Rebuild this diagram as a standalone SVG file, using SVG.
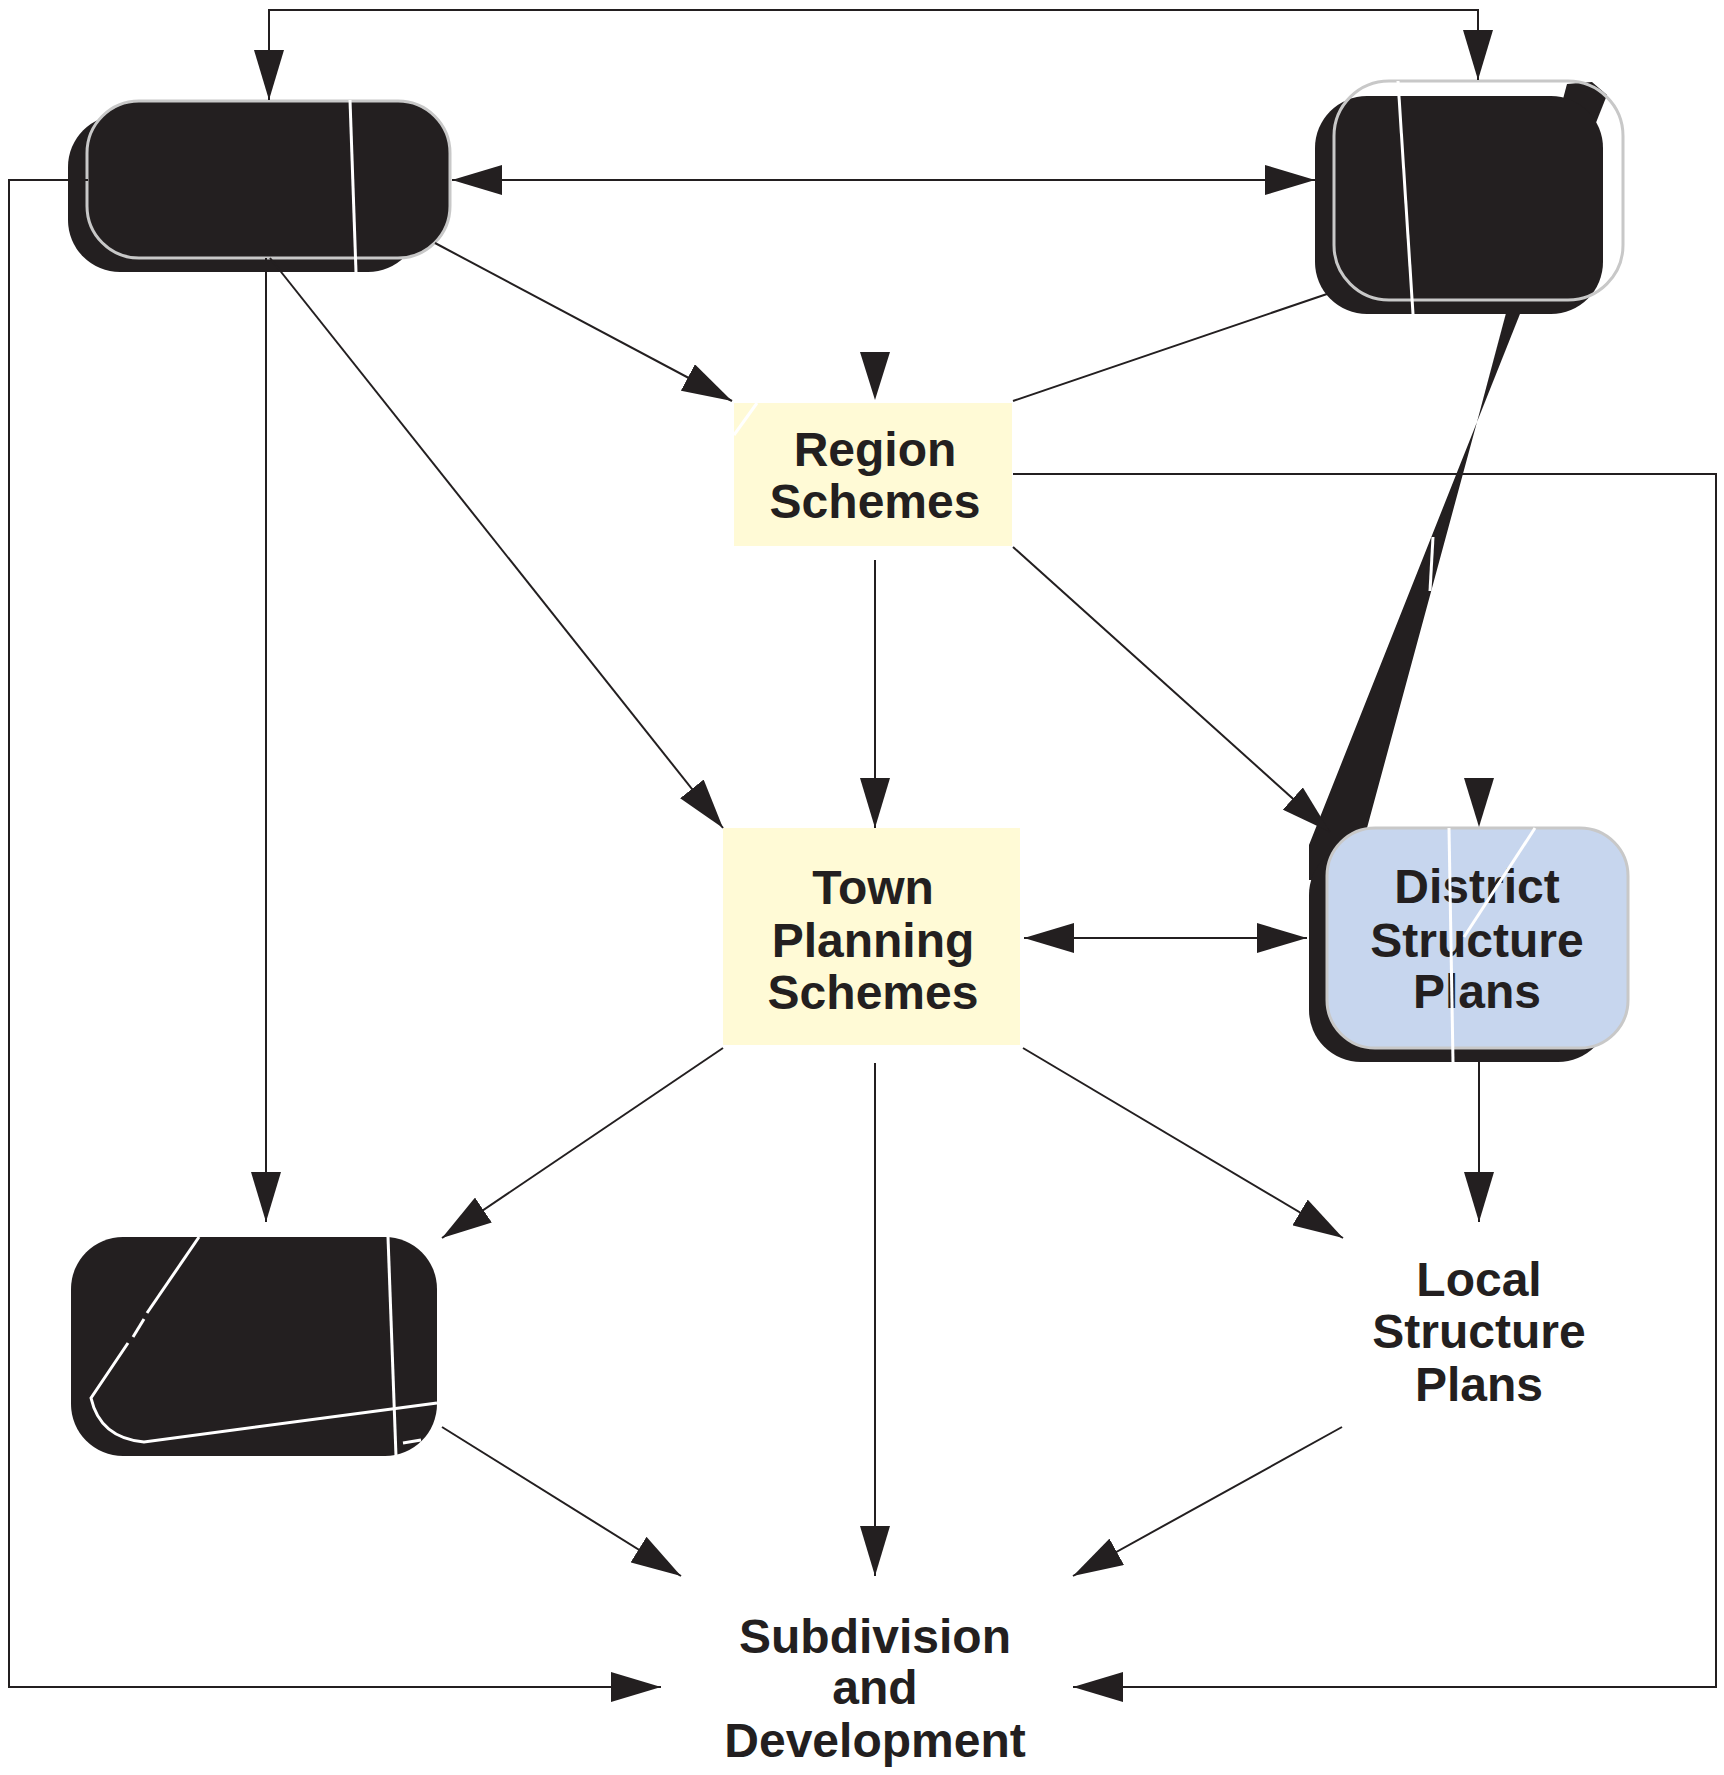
<svg xmlns="http://www.w3.org/2000/svg" width="1724" height="1775" viewBox="0 0 1724 1775">
<defs>
<style>
.blk{fill:#231f20}
.outl{fill:none;stroke:#c8c8c8;stroke-width:3}
.wl{stroke:#ffffff;stroke-width:3;fill:none}
.yel{fill:#fffad6}
.blue{fill:#c7d6ee;stroke:#c8c8c8;stroke-width:3}
.lbl{font-family:"Liberation Sans",Arial,Helvetica,sans-serif;font-weight:bold;font-size:48px;fill:#231f20;text-anchor:middle}
.cn{fill:none;stroke:#231f20;stroke-width:2}
</style>
<marker id="ah" viewBox="0 0 50 30" refX="50" refY="15" markerWidth="50" markerHeight="30" markerUnits="userSpaceOnUse" orient="auto-start-reverse">
<path d="M0,0 L50,15 L0,30 z" fill="#231f20"/>
</marker>
</defs>
<rect width="1724" height="1775" fill="#ffffff"/>

<g id="node-top-left">
<rect class="blk" x="68" y="115" width="352" height="157" rx="52"/>
<rect class="blk" x="87" y="101" width="363" height="157" rx="52" stroke="#c8c8c8" stroke-width="3"/>
<line class="wl" x1="350" y1="100" x2="356" y2="272"/>
</g>

<g id="node-top-right">
<polygon class="blk" points="1567,84 1592,82 1607,95 1477,422"/>
<rect class="blk" x="1315" y="96" width="288" height="218" rx="52"/>
<rect class="outl" x="1334" y="81" width="289" height="219" rx="55"/>
<line class="wl" x1="1398" y1="81" x2="1413" y2="314"/>
</g>

<g id="node-region-schemes">
<rect class="yel" x="734" y="403" width="278" height="143"/>
<line class="wl" x1="757" y1="403" x2="734" y2="435"/>
<text class="lbl" x="875" y="466">Region</text>
<text class="lbl" x="875" y="518">Schemes</text>
</g>

<g id="node-town-planning-schemes">
<rect class="yel" x="723" y="828" width="297" height="217"/>
<text class="lbl" x="873" y="904">Town</text>
<text class="lbl" x="873" y="957">Planning</text>
<text class="lbl" x="873" y="1009">Schemes</text>
</g>

<g id="node-district-structure-plans">
<polygon class="blk" points="1477,422 1367,828 1360,880 1309,880 1309,845"/>
<rect class="blk" x="1309" y="843" width="301" height="219" rx="52"/>
<rect class="blue" x="1327" y="828" width="301" height="220" rx="48"/>
<text class="lbl" x="1477" y="903">District</text>
<text class="lbl" x="1477" y="957">Structure</text>
<text class="lbl" x="1477" y="1008">Plans</text>
<line class="wl" x1="1449" y1="828" x2="1453" y2="1062" stroke-width="4"/>
<line class="wl" x1="1535" y1="828" x2="1464" y2="937"/>
<line class="wl" x1="1433" y1="537" x2="1430" y2="591"/>
</g>

<g id="node-bottom-left">
<rect class="blk" x="71" y="1237" width="366" height="219" rx="52"/>
<line class="wl" x1="199" y1="1237" x2="147" y2="1313"/>
<line class="wl" x1="144" y1="1319" x2="133" y2="1337"/>
<path class="wl" d="M128,1343 L91,1398 Q100,1438 144,1442 L437,1403"/>
<line class="wl" x1="388" y1="1237" x2="396" y2="1456"/>
<line class="wl" x1="403" y1="1443" x2="421" y2="1440"/>
</g>

<g id="node-local-structure-plans">
<text class="lbl" x="1479" y="1296">Local</text>
<text class="lbl" x="1479" y="1348">Structure</text>
<text class="lbl" x="1479" y="1401">Plans</text>
</g>

<g id="node-subdivision-and-development">
<text class="lbl" x="875" y="1653">Subdivision</text>
<text class="lbl" x="875" y="1704">and</text>
<text class="lbl" x="875" y="1757">Development</text>
</g>

<g id="connectors">
<path class="cn" d="M269,100 L269,10 L1478,10 L1478,80" marker-start="url(#ah)" marker-end="url(#ah)"/>
<path class="cn" d="M452,180 L1315,180" marker-start="url(#ah)" marker-end="url(#ah)"/>
<path class="cn" d="M88,180 L9,180 L9,1687 L661,1687" marker-end="url(#ah)"/>
<path class="cn" d="M1013,474 L1716,474 L1716,1687 L1073,1687" marker-end="url(#ah)"/>
<path class="cn" d="M435,243 L732,401" marker-end="url(#ah)"/>
<path class="cn" d="M270,258 L723,828" marker-end="url(#ah)"/>
<path class="cn" d="M266,258 L266,1222" marker-end="url(#ah)"/>
<path class="cn" d="M1327,294 L1013,401"/>
<path class="cn" d="M875,560 L875,828" marker-end="url(#ah)"/>
<path class="cn" d="M1013,547 L1330,832" marker-end="url(#ah)"/>
<path class="cn" d="M1024,938 L1307,938" marker-start="url(#ah)" marker-end="url(#ah)"/>
<path class="cn" d="M723,1048 L442,1238" marker-end="url(#ah)"/>
<path class="cn" d="M875,1063 L875,1576" marker-end="url(#ah)"/>
<path class="cn" d="M1023,1048 L1343,1238" marker-end="url(#ah)"/>
<path class="cn" d="M1479,1062 L1479,1222" marker-end="url(#ah)"/>
<path class="cn" d="M442,1427 L681,1576" marker-end="url(#ah)"/>
<path class="cn" d="M1342,1427 L1073,1576" marker-end="url(#ah)"/>
<polygon class="blk" points="860,352 890,352 875,400"/>
<polygon class="blk" points="1464,778 1494,778 1479,827"/>
</g>
</svg>
